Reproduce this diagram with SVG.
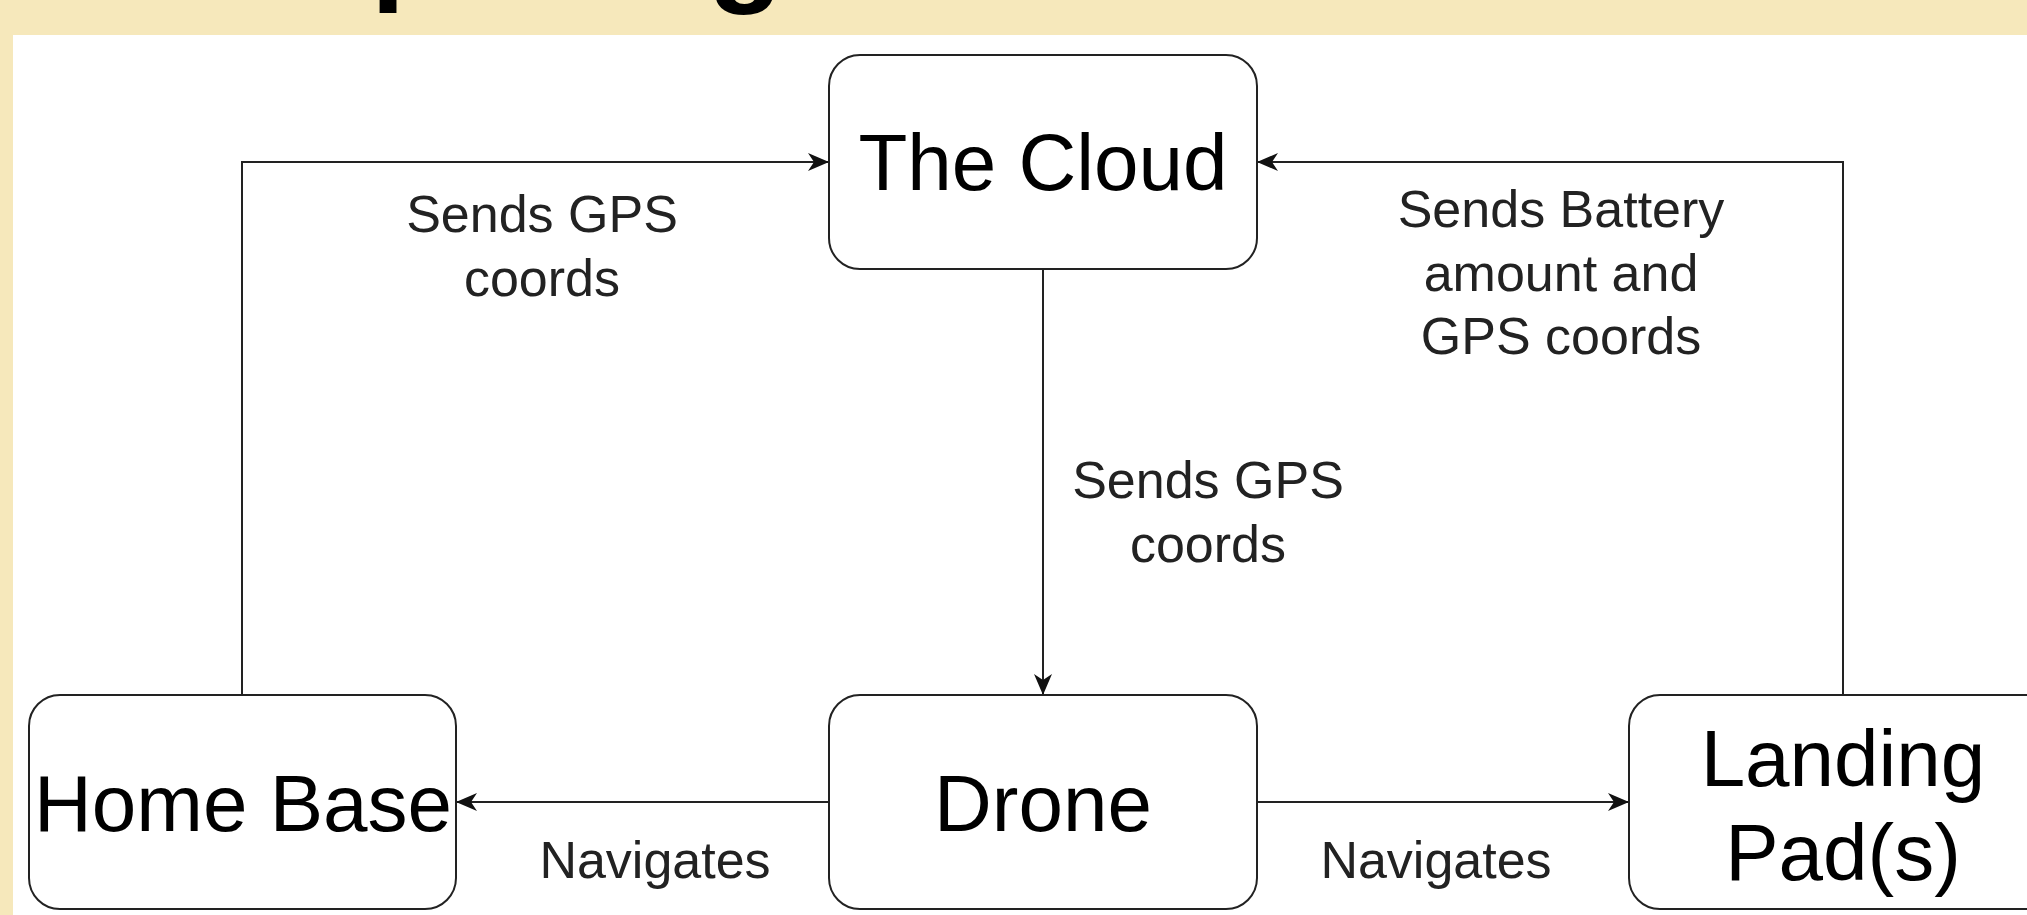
<svg xmlns="http://www.w3.org/2000/svg" width="2027" height="915" viewBox="0 0 2027 915">
  <style>
    .box { fill: #ffffff; stroke: #222222; stroke-width: 2; }
    .conn { fill: none; stroke: #222222; stroke-width: 2; }
    .node { font-family: "Liberation Sans", Arial, sans-serif; font-size: 80px; fill: #000000; text-anchor: middle; }
    .lbl { font-family: "Liberation Sans", Arial, sans-serif; font-size: 52px; fill: #222222; text-anchor: middle; }
    .title { font-family: "Liberation Sans", Arial, sans-serif; font-size: 123px; font-weight: bold; fill: #000000; }
  </style>
  <defs>
    <marker id="arrow" markerUnits="userSpaceOnUse" markerWidth="22" markerHeight="18" refX="21" refY="9" orient="auto">
      <path d="M0,0 L21,9 L0,18 L6,9 Z" fill="#111111"/>
    </marker>
  </defs>

  <rect x="0" y="0" width="2027" height="915" fill="#F6E8BB"/>
  <rect x="13" y="35" width="2014" height="880" fill="#ffffff"/>

  <g id="title-fragments">
    <text class="title" x="371" y="-12">p</text>
    <text class="title" x="708" y="-11">g</text>
  </g>

  <g id="connectors">
    <path class="conn" d="M242,695 V162 H829" marker-end="url(#arrow)"/>
    <path class="conn" d="M1843,695 V162 H1257" marker-end="url(#arrow)"/>
    <path class="conn" d="M1043,269 V695" marker-end="url(#arrow)"/>
    <path class="conn" d="M829,802 H456" marker-end="url(#arrow)"/>
    <path class="conn" d="M1257,802 H1629" marker-end="url(#arrow)"/>
    <text class="lbl" x="542" y="232">Sends GPS</text>
    <text class="lbl" x="542" y="296">coords</text>
    <text class="lbl" x="1561" y="227">Sends Battery</text>
    <text class="lbl" x="1561" y="291">amount and</text>
    <text class="lbl" x="1561" y="354">GPS coords</text>
    <text class="lbl" x="1208" y="498">Sends GPS</text>
    <text class="lbl" x="1208" y="562">coords</text>
    <text class="lbl" x="655" y="878">Navigates</text>
    <text class="lbl" x="1436" y="878">Navigates</text>
  </g>

  <g id="cloud">
    <rect class="box" x="829" y="55" width="428" height="214" rx="31" ry="31"/>
    <text class="node" x="1043" y="190">The Cloud</text>
  </g>

  <g id="home-base">
    <rect class="box" x="29" y="695" width="427" height="214" rx="31" ry="31"/>
    <text class="node" x="243" y="831">Home Base</text>
  </g>

  <g id="drone">
    <rect class="box" x="829" y="695" width="428" height="214" rx="31" ry="31"/>
    <text class="node" x="1043" y="831">Drone</text>
  </g>

  <g id="landing-pad">
    <rect class="box" x="1629" y="695" width="428" height="214" rx="31" ry="31"/>
    <text class="node" x="1843" y="786">Landing</text>
    <text class="node" x="1843" y="880">Pad(s)</text>
  </g>
</svg>
